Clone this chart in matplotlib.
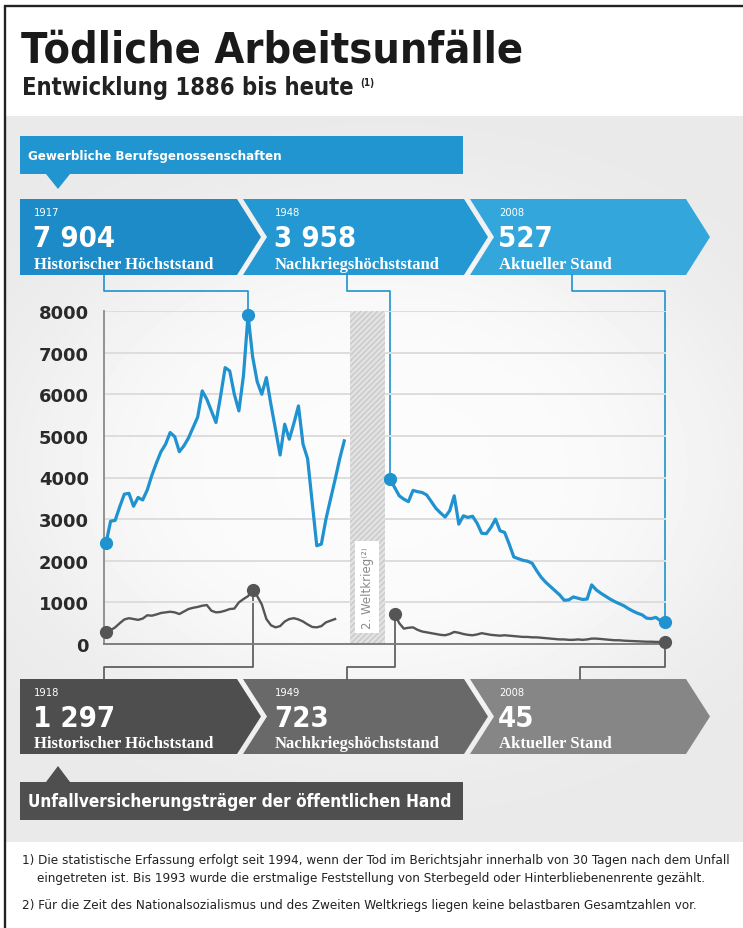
import numpy as np
import matplotlib.pyplot as plt
from matplotlib import font_manager
from matplotlib.patches import Polygon, Rectangle

W, H = 743, 929

# Gewerbliche Berufsgenossenschaften (tödliche Arbeitsunfälle pro Jahr)
bg_years_pre = np.arange(1886, 1939)
bg_pre = [2420, 2950, 2970, 3300, 3600, 3620, 3310, 3520, 3460, 3700,
          4050, 4350, 4620, 4800, 5080, 4980, 4620, 4760, 4950, 5200,
          5450, 6080, 5880, 5600, 5320, 5950, 6640, 6560, 6000, 5600,
          6450, 7904, 6900, 6300, 6000, 6400, 5750, 5150, 4540, 5280,
          4920, 5300, 5720, 4800, 4450, 3400, 2360, 2400, 3000, 3480,
          3950, 4450, 4880]
bg_years_post = np.arange(1948, 2009)
bg_post = [3958, 3760, 3560, 3480, 3420, 3690, 3660, 3640, 3580, 3420,
           3260, 3150, 3050, 3200, 3560, 2880, 3080, 3040, 3070, 2900,
           2660, 2650, 2800, 3000, 2720, 2680, 2400, 2090, 2050, 2010,
           1990, 1940, 1760, 1600, 1480, 1380, 1280, 1180, 1050, 1060,
           1130, 1100, 1070, 1080, 1420, 1300, 1220, 1150, 1080, 1020,
           970, 920, 850, 790, 740, 700, 620, 610, 640, 560, 527]

# Unfallversicherungsträger der öffentlichen Hand
uv_years_pre = np.arange(1886, 1937)
uv_pre = [280, 330, 400, 500, 590, 620, 600, 580, 610, 690,
          680, 710, 745, 760, 775, 760, 720, 780, 840, 870,
          890, 920, 935, 800, 760, 770, 800, 840, 850, 1000,
          1080, 1150, 1297, 1150, 950, 600, 450, 400, 430, 540,
          600, 620, 590, 540, 470, 410, 400, 430, 520, 560, 600]
uv_years_post = np.arange(1949, 2009)
uv_post = [723, 500, 370, 390, 400, 340, 300, 280, 260, 240,
           220, 210, 240, 290, 270, 240, 220, 210, 230, 260,
           240, 220, 210, 200, 210, 200, 190, 180, 170, 170,
           160, 160, 150, 140, 130, 120, 110, 110, 100, 100,
           110, 100, 110, 130, 130, 120, 110, 100, 90, 90,
           80, 75, 70, 65, 60, 55, 55, 50, 48, 45]

war_span = (1939.2, 1946.8)
yticks = np.arange(0, 8001, 1000)

bg_marks = [(1917, "Historischer Höchststand"),
            (1948, "Nachkriegshöchststand"),
            (2008, "Aktueller Stand")]
uv_marks = [(1918, "Historischer Höchststand"),
            (1949, "Nachkriegshöchststand"),
            (2008, "Aktueller Stand")]

footnotes = [
    "1) Die statistische Erfassung erfolgt seit 1994, wenn der Tod im Berichtsjahr innerhalb von 30 Tagen nach dem Unfall",
    "eingetreten ist. Bis 1993 wurde die erstmalige Feststellung von Sterbegeld oder Hinterbliebenenrente gezählt.",
    "2) Für die Zeit des Nationalsozialismus und des Zweiten Weltkriegs liegen keine belastbaren Gesamtzahlen vor.",
]

BLUE = '#1f92cf'
BLUE_BOX = ['#1c8bc7', '#2398d2', '#33a7dc']
GRAY = '#555555'
GRAY_BOX = ['#4e4e4e', '#696969', '#868686']

installed = {f.name for f in font_manager.fontManager.ttflist}
if 'Liberation Sans Narrow' in installed:
    SANS = ['Liberation Sans Narrow', 'DejaVu Sans']
else:
    SANS = ['DejaVu Sans']
SERIF = ['Liberation Serif', 'DejaVu Serif']


def value(years, vals, year):
    return vals[list(years).index(year)]


def fmt(v):
    return f"{v:,}".replace(",", " ")


def chevron(x0, x1, y0, y1, tip=24, notch=0):
    ym = (y0 + y1) / 2
    pts = [(x0, y0), (x1, y0), (x1 + tip, ym), (x1, y1), (x0, y1)]
    if notch:
        pts.append((x0 + notch, ym))
    return pts


fig = plt.figure(figsize=(W / 100, H / 100), dpi=100)
bg = fig.add_axes([0, 0, 1, 1], zorder=0)
bg.set_xlim(0, W)
bg.set_ylim(H, 0)
bg.axis('off')

# panel: light grey, fading to near white around the chart
gx, gy = np.meshgrid(np.linspace(5, W, 200), np.linspace(117, 843, 200))
r = ((gx - 385) / 360) ** 2 + ((gy - 470) / 260) ** 2
shade = 0.915 + 0.07 * np.exp(-r ** 2)
bg.imshow(shade, cmap='gray', vmin=0, vmax=1, extent=(5, W, 843, 117),
          aspect='auto', interpolation='bilinear', zorder=0)
bg.set_xlim(0, W)
bg.set_ylim(H, 0)
bg.plot([5, 5, W], [H, 7, 7], color='#222222', lw=1.7, solid_joinstyle='miter')

# title
bg.text(21, 62, "Tödliche Arbeitsunfälle", family=SANS, fontstretch='condensed',
        fontweight='bold', fontsize=31, color='#1a1a1a', va='baseline')
bg.text(22, 95, "Entwicklung 1886 bis heute", family=SANS, fontstretch='condensed',
        fontweight='bold', fontsize=17, color='#222222', va='baseline')
bg.text(360, 86, "(1)", family=SANS, fontstretch='condensed',
        fontweight='bold', fontsize=7, color='#222222', va='baseline')

# chart
ax = fig.add_axes([104 / W, 1 - 645 / H, 562 / W, 333 / H], zorder=1)
ax.patch.set_alpha(0)
ax.set_xlim(1885.56, 2008.22)
ax.set_ylim(0, 8000)
ax.axvspan(*war_span, facecolor='#e2e2e2', edgecolor='#c9c9c9', hatch='//////',
           lw=0, zorder=0.8)
ax.set_yticks(yticks)
ax.set_yticklabels([str(t) for t in yticks], fontweight='bold')
ax.tick_params(axis='y', length=0, pad=11, labelsize=13, labelcolor='#2a2a2a')
ax.set_xticks([])
ax.grid(axis='y', color='#dddddd', lw=1.4)
ax.set_axisbelow(True)
for s in ['top', 'right']:
    ax.spines[s].set_visible(False)
ax.spines['left'].set_color('#8a8a8a')
ax.spines['bottom'].set_color('#777777')
ax.spines['left'].set_linewidth(1.3)
ax.spines['bottom'].set_linewidth(1.3)

ax.text(sum(war_span) / 2, 1370, "2. Weltkrieg⁽²⁾", rotation=90, ha='center',
        va='center', family=SANS, fontsize=8.5, color='#8a8a8a', zorder=1,
        bbox=dict(boxstyle='square,pad=0.45', fc='white', ec='none'))

ax.plot(bg_years_pre, bg_pre, color=BLUE, lw=2.3, solid_joinstyle='round', zorder=3)
ax.plot(bg_years_post, bg_post, color=BLUE, lw=2.3, solid_joinstyle='round', zorder=3)
ax.plot(uv_years_pre, uv_pre, color=GRAY, lw=1.7, solid_joinstyle='round', zorder=3)
ax.plot(uv_years_post, uv_post, color=GRAY, lw=1.7, solid_joinstyle='round', zorder=3)

bg_dots = [(1886, bg_pre[0])] + [(y, value(np.r_[bg_years_pre, bg_years_post], bg_pre + bg_post, y))
                                 for y, _ in bg_marks]
uv_dots = [(1886, uv_pre[0])] + [(y, value(np.r_[uv_years_pre, uv_years_post], uv_pre + uv_post, y))
                                 for y, _ in uv_marks]
ax.plot(*zip(*bg_dots), 'o', color=BLUE, ms=8.5, clip_on=False, zorder=4)
ax.plot(*zip(*uv_dots), 'o', color=GRAY, ms=8.5, clip_on=False, zorder=4)


def to_px(x, y):
    return bg.transData.inverted().transform(ax.transData.transform((x, y)))


# stat rows: chevrons with year, value, caption
rows = [
    dict(dots=bg_dots[1:], marks=bg_marks, colors=BLUE_BOX, y0=200, y1=276,
         elbow=292, starts=[104, 347, 572], lc=BLUE),
    dict(dots=uv_dots[1:], marks=uv_marks, colors=GRAY_BOX, y0=680, y1=755,
         elbow=668, starts=[104, 347, 580], lc=GRAY),
]
spans = [(20, 237, 0), (243, 464, 24), (470, 686, 24)]
text_x = [34, 275, 499]
for row in rows:
    y0, y1 = row['y0'], row['y1']
    for i, ((x0, x1, notch), (yr, v), (_, caption)) in enumerate(
            zip(spans, row['dots'], row['marks'])):
        bg.add_patch(Polygon(chevron(x0, x1, y0, y1, notch=notch),
                             closed=True, color=row['colors'][i], lw=0))
        tx = text_x[i]
        bg.text(tx, y0 + 13, str(yr), family=SANS, fontstretch='condensed',
                fontsize=8, color='white', va='center')
        bg.text(tx - 1, y0 + 39, fmt(v), family=SANS, fontstretch='condensed',
                fontweight='bold', fontsize=21, color='white', va='center')
        bg.text(tx, y1 - 11, caption, family=SERIF, fontweight='bold',
                fontsize=12, color='white', va='center')
        # leader from the box down/up to the marked point
        px, py = to_px(yr, v)
        sx = row['starts'][i]
        edge = y1 if y0 < row['elbow'] else y0
        bg.plot([sx, sx, px, px], [edge, row['elbow'], row['elbow'], py],
                color=row['lc'], lw=1.2, zorder=5)

# series banners
bg.add_patch(Rectangle((20, 137), 443, 38, color='#2195d0', lw=0))
bg.add_patch(Polygon([(46, 175), (70, 175), (58, 190)], closed=True, color='#2195d0', lw=0))
bg.text(28, 156, "Gewerbliche Berufsgenossenschaften", family=SANS, fontstretch='condensed',
        fontweight='bold', fontsize=9.5, color='white', va='center')

bg.add_patch(Rectangle((20, 783), 443, 38, color='#4f4f4f', lw=0))
bg.add_patch(Polygon([(46, 783), (70, 783), (58, 767)], closed=True, color='#4f4f4f', lw=0))
bg.text(28, 802, "Unfallversicherungsträger der öffentlichen Hand", family=SANS,
        fontstretch='condensed', fontweight='bold', fontsize=12.3, color='white', va='center')

# footnotes
for (x, y), line in zip([(22, 861), (37, 879), (22, 906)], footnotes):
    bg.text(x, y, line, family=SANS, fontstretch='condensed', fontsize=9.6,
            color='#222222', va='center')

fig.savefig('out.png', dpi=100)
